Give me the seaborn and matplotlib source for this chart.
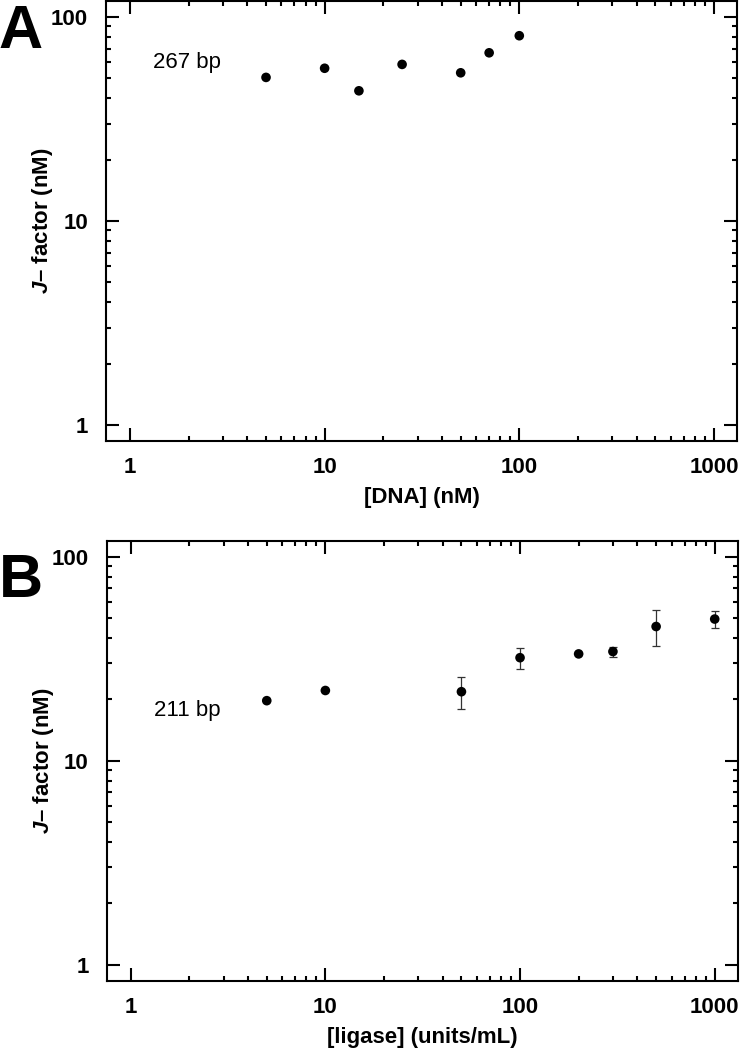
import numpy as np
import seaborn as sn
import matplotlib.pyplot as plt
from matplotlib.ticker import FuncFormatter, FixedLocator, NullFormatter

"""
J-factor vs [DNA] (267 bp) and vs [ligase] (211 bp)
"""

# Panel A: J-factor vs DNA concentration, 267 bp
dna_nM = [5, 10, 15, 25, 50, 70, 100]
jfactor_a = [50.6, 56.1, 43.5, 58.6, 53.3, 66.8, 81.0]

# Panel B: J-factor vs ligase concentration, 211 bp
ligase_units = [5, 10, 50, 100, 200, 300, 500, 1000]
jfactor_b = [19.7, 22.1, 21.8, 32.0, 33.4, 34.3, 45.5, 49.5]
err_low_b = [19.7, 22.1, 17.9, 28.1, 33.4, 32.4, 36.6, 44.7]
err_high_b = [19.7, 22.1, 25.6, 35.9, 33.4, 36.3, 54.6, 54.4]

x_major = [1, 10, 100, 1000]
y_major = [1, 10, 100]

sn.set_style("ticks")
plt.rcParams["font.family"] = ["Liberation Sans", "DejaVu Sans"]
plt.rcParams["mathtext.fontset"] = "custom"
plt.rcParams["mathtext.it"] = "Liberation Sans:italic:bold"
plt.rcParams["mathtext.rm"] = "Liberation Sans:bold"
plt.rcParams["text.color"] = "black"
plt.rcParams["axes.labelcolor"] = "black"
plt.rcParams["xtick.color"] = "black"
plt.rcParams["ytick.color"] = "black"

fig = plt.figure(figsize=(7.41, 10.5), dpi=100)
ax_a = fig.add_axes([0.143, 0.58, 0.8516, 0.419])
ax_b = fig.add_axes([0.144, 0.066, 0.8516, 0.419])


def minor_between(majors):
    # 2..9 subdivisions inside the labelled decades only
    return [m * k for m in majors[:-1] for k in range(2, 10)]


def style_axis(ax, xlabel):
    ax.set_xscale("log")
    ax.set_yscale("log")
    ax.set_xlim(0.753, 1313)
    ax.set_ylim(0.835, 119.8)
    ax.xaxis.set_major_locator(FixedLocator(x_major))
    ax.yaxis.set_major_locator(FixedLocator(y_major))
    ax.xaxis.set_minor_locator(FixedLocator(minor_between(x_major)))
    ax.yaxis.set_minor_locator(FixedLocator(minor_between(y_major)))
    fmt = FuncFormatter(lambda v, _: f"{v:g}")
    ax.xaxis.set_major_formatter(fmt)
    ax.yaxis.set_major_formatter(fmt)
    ax.xaxis.set_minor_formatter(NullFormatter())
    ax.yaxis.set_minor_formatter(NullFormatter())
    ax.tick_params(which="both", direction="in", top=True, right=True,
                   width=1.5, color="black")
    ax.tick_params(which="major", length=9.5, labelsize=16)
    ax.tick_params(which="minor", length=3.5)
    ax.tick_params(axis="x", which="major", pad=11.5)
    ax.tick_params(axis="y", which="major", pad=13)
    for lab in ax.get_xticklabels() + ax.get_yticklabels():
        lab.set_fontweight("bold")
    for sp in ax.spines.values():
        sp.set_linewidth(1.5)
        sp.set_color("black")
    ax.set_xlabel(xlabel, fontsize=16, fontweight="bold")
    ax.set_ylabel("$J$\u2013 factor (nM)", fontsize=16, fontweight="bold")
    ax.xaxis.set_label_coords(0.5, -0.105)
    ax.yaxis.set_label_coords(-0.081, 0.5)


# Panel A
sn.scatterplot(x=dna_nM, y=jfactor_a, ax=ax_a, color="black", s=48,
               edgecolor="none")
style_axis(ax_a, "[DNA] (nM)")
ax_a.text(0.0745, 0.861, "267 bp", transform=ax_a.transAxes, fontsize=16,
          va="center", ha="left")

# Panel B, error bars first so the dots sit on top
y_b = np.array(jfactor_b)
lo = y_b - np.array(err_low_b)
hi = np.array(err_high_b) - y_b
has_err = (lo > 0) | (hi > 0)
ax_b.errorbar(np.array(ligase_units)[has_err], y_b[has_err],
              yerr=[lo[has_err], hi[has_err]], fmt="none", ecolor="#333333",
              elinewidth=0.9, capsize=3, capthick=0.9, zorder=1)
sn.scatterplot(x=ligase_units, y=jfactor_b, ax=ax_b, color="black", s=48,
               edgecolor="none", zorder=2)
style_axis(ax_b, "[ligase] (units/mL)")
ax_b.text(0.075, 0.615, "211 bp", transform=ax_b.transAxes, fontsize=16,
          va="center", ha="left")

# Panel letters
fig.text(-0.002, 0.954, "A", fontsize=44, fontweight="bold", va="baseline")
fig.text(-0.002, 0.431, "B", fontsize=44, fontweight="bold", va="baseline")

plt.savefig("out.png", dpi=100)
